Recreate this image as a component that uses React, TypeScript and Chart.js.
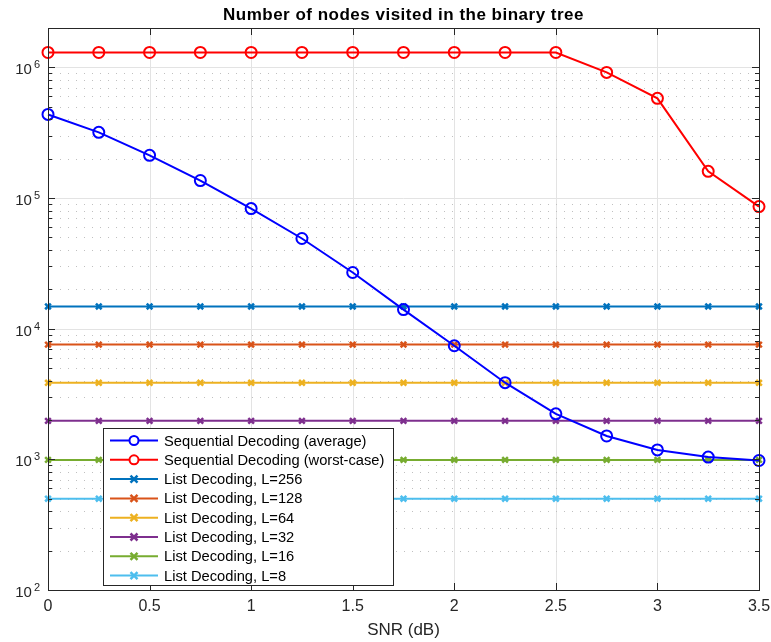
import React, { useEffect, useRef } from 'react';
import { Chart, registerables } from 'chart.js';
Chart.register(...registerables);

const snr = [0, 0.25, 0.5, 0.75, 1, 1.25, 1.5, 1.75, 2, 2.25, 2.5, 2.75, 3, 3.25, 3.5];
const seqAverage = [436000, 318000, 212000, 136000, 83000, 49000, 26900, 14000, 7400, 3860, 2230, 1510, 1180, 1040, 980];
const seqWorst = [1300000, 1300000, 1300000, 1300000, 1300000, 1300000, 1300000, 1300000, 1300000, 1300000, 1300000, 915000, 579000, 160000, 86000];
const list256 = [14800, 14800, 14800, 14800, 14800, 14800, 14800, 14800, 14800, 14800, 14800, 14800, 14800, 14800, 14800];
const list128 = [7550, 7550, 7550, 7550, 7550, 7550, 7550, 7550, 7550, 7550, 7550, 7550, 7550, 7550, 7550];
const list64 = [3850, 3850, 3850, 3850, 3850, 3850, 3850, 3850, 3850, 3850, 3850, 3850, 3850, 3850, 3850];
const list32 = [1970, 1970, 1970, 1970, 1970, 1970, 1970, 1970, 1970, 1970, 1970, 1970, 1970, 1970, 1970];
const list16 = [990, 990, 990, 990, 990, 990, 990, 990, 990, 990, 990, 990, 990, 990, 990];
const list8 = [500, 500, 500, 500, 500, 500, 500, 500, 500, 500, 500, 500, 500, 500, 500];

const seriesLabels = [
  'Sequential Decoding (average)',
  'Sequential Decoding (worst-case)',
  'List Decoding, L=256',
  'List Decoding, L=128',
  'List Decoding, L=64',
  'List Decoding, L=32',
  'List Decoding, L=16',
  'List Decoding, L=8',
];
const seriesColors = ['#0000FF', '#FF0000', '#0072BD', '#D95319', '#EDB120', '#7E2F8E', '#77AC30', '#4DBEEE'];
const seriesValues = [seqAverage, seqWorst, list256, list128, list64, list32, list16, list8];

const xTicks = [0, 0.5, 1, 1.5, 2, 2.5, 3, 3.5];
const xTickLabels = ['0', '0.5', '1', '1.5', '2', '2.5', '3', '3.5'];
const yDecades = [2, 3, 4, 5, 6];

const titleText = 'Number of nodes visited in the binary tree';
const xLabelText = 'SNR (dB)';
const FONT = '"Liberation Sans", Arial, Helvetica, sans-serif';

const axesPlugin = {
  id: 'matlabAxes',
  beforeDatasetsDraw(chart: any) {
    const { ctx, chartArea: a } = chart;
    const xs = chart.scales.x;
    const ys = chart.scales.y;
    ctx.save();
    ctx.strokeStyle = '#e3e3e3';
    ctx.lineWidth = 1;
    xTicks.forEach((t) => {
      const px = Math.round(xs.getPixelForValue(t)) + 0.5;
      ctx.beginPath();
      ctx.moveTo(px, a.top);
      ctx.lineTo(px, a.bottom);
      ctx.stroke();
    });
    yDecades.forEach((d) => {
      const py = Math.round(ys.getPixelForValue(Math.pow(10, d))) + 0.5;
      ctx.setLineDash([]);
      ctx.strokeStyle = '#e3e3e3';
      ctx.beginPath();
      ctx.moveTo(a.left, py);
      ctx.lineTo(a.right, py);
      ctx.stroke();
      for (let m = 2; m <= 9; m++) {
        const v = m * Math.pow(10, d);
        if (v > ys.max) continue;
        const my = Math.round(ys.getPixelForValue(v)) + 0.5;
        ctx.setLineDash([1, 7]);
        ctx.lineDashOffset = -4;
        ctx.strokeStyle = '#c0c0c0';
        ctx.beginPath();
        ctx.moveTo(a.left, my);
        ctx.lineTo(a.right, my);
        ctx.stroke();
      }
    });
    ctx.restore();
  },
  afterDatasetsDraw(chart: any) {
    const { ctx, chartArea: a } = chart;
    const xs = chart.scales.x;
    const ys = chart.scales.y;
    ctx.save();
    ctx.setLineDash([]);
    ctx.strokeStyle = '#262626';
    ctx.lineWidth = 1;
    xTicks.forEach((t) => {
      const px = Math.round(xs.getPixelForValue(t)) + 0.5;
      ctx.beginPath();
      ctx.moveTo(px, a.bottom);
      ctx.lineTo(px, a.bottom - 7);
      ctx.moveTo(px, a.top);
      ctx.lineTo(px, a.top + 7);
      ctx.stroke();
    });
    yDecades.forEach((d) => {
      const py = Math.round(ys.getPixelForValue(Math.pow(10, d))) + 0.5;
      ctx.beginPath();
      ctx.moveTo(a.left, py);
      ctx.lineTo(a.left + 7, py);
      ctx.moveTo(a.right, py);
      ctx.lineTo(a.right - 7, py);
      ctx.stroke();
      for (let m = 2; m <= 9; m++) {
        const v = m * Math.pow(10, d);
        if (v > ys.max) continue;
        const my = Math.round(ys.getPixelForValue(v)) + 0.5;
        ctx.beginPath();
        ctx.moveTo(a.left, my);
        ctx.lineTo(a.left + 4, my);
        ctx.moveTo(a.right, my);
        ctx.lineTo(a.right - 4, my);
        ctx.stroke();
      }
    });
    ctx.strokeStyle = '#262626';
    ctx.strokeRect(Math.round(a.left) + 0.5, Math.round(a.top) + 0.5, Math.round(a.right - a.left), Math.round(a.bottom - a.top));
    ctx.fillStyle = '#262626';
    ctx.font = `16px ${FONT}`;
    ctx.textAlign = 'center';
    ctx.textBaseline = 'middle';
    xTicks.forEach((t, i) => {
      ctx.fillText(xTickLabels[i], xs.getPixelForValue(t), a.bottom + 17);
    });
    ctx.font = `17px ${FONT}`;
    ctx.fillText(xLabelText, (a.left + a.right) / 2, a.bottom + 40);
    yDecades.forEach((d) => {
      const py = ys.getPixelForValue(Math.pow(10, d));
      ctx.font = `11px ${FONT}`;
      ctx.textAlign = 'right';
      ctx.textBaseline = 'middle';
      const expW = ctx.measureText(String(d)).width;
      ctx.fillText(String(d), a.left - 8, py - 2);
      ctx.font = `15px ${FONT}`;
      ctx.fillText('10', a.left - 8 - expW - 2, py + 3);
    });
    ctx.font = `bold 17px ${FONT}`;
    ctx.textAlign = 'center';
    ctx.fillStyle = '#000000';
    try { (ctx as any).letterSpacing = '0.5px'; } catch (e) {}
    ctx.fillText(titleText, (a.left + a.right) / 2, 15);
    try { (ctx as any).letterSpacing = '0px'; } catch (e) {}
    ctx.restore();
  },
  afterDraw(chart: any) {
    const { ctx } = chart;
    const bx = 103.5, by = 428.5, bw = 290, bh = 157;
    ctx.save();
    ctx.fillStyle = '#ffffff';
    ctx.fillRect(bx, by, bw, bh);
    ctx.strokeStyle = '#262626';
    ctx.lineWidth = 1;
    ctx.strokeRect(bx, by, bw, bh);
    const rowH = 19.3;
    seriesLabels.forEach((lab, i) => {
      const cy = by + 12 + i * rowH;
      ctx.strokeStyle = seriesColors[i];
      ctx.lineWidth = 2;
      ctx.beginPath();
      ctx.moveTo(110, cy);
      ctx.lineTo(158, cy);
      ctx.stroke();
      ctx.beginPath();
      if (i < 2) {
        ctx.arc(134, cy, 4.5, 0, Math.PI * 2);
        ctx.fillStyle = '#ffffff';
        ctx.fill();
        ctx.stroke();
      } else {
        const r = 3.5;
        ctx.lineWidth = 2.5;
        ctx.moveTo(134 - r, cy - r);
        ctx.lineTo(134 + r, cy + r);
        ctx.moveTo(134 + r, cy - r);
        ctx.lineTo(134 - r, cy + r);
        ctx.stroke();
      }
      ctx.fillStyle = '#000000';
      ctx.font = `14.7px ${FONT}`;
      ctx.textAlign = 'left';
      ctx.textBaseline = 'middle';
      ctx.fillText(lab, 164, cy + 1);
    });
    ctx.restore();
  },
};

export default function App() {
  const ref = useRef<HTMLCanvasElement>(null);
  useEffect(() => {
    if (!ref.current) return;
    const datasets = seriesValues.map((vals, i) => ({
      label: seriesLabels[i],
      data: vals.map((v, j) => ({ x: snr[j], y: v })),
      borderColor: seriesColors[i],
      backgroundColor: i < 2 ? 'rgba(255,255,255,0)' : seriesColors[i],
      borderWidth: 2,
      pointStyle: i < 2 ? 'circle' : 'crossRot',
      pointRadius: i < 2 ? 5.5 : 4,
      pointBorderWidth: i < 2 ? 2 : 2.5,
      pointBorderColor: seriesColors[i],
      pointBackgroundColor: 'rgba(255,255,255,0)',
      tension: 0,
      clip: 10,
      order: i < 2 ? 0 : 1,
    }));
    const chart = new Chart(ref.current, {
      type: 'line',
      data: { datasets },
      options: {
        animation: false,
        responsive: false,
        maintainAspectRatio: false,
        layout: { padding: { left: 48, top: 28, right: 12, bottom: 52 } },
        plugins: { legend: { display: false }, tooltip: { enabled: false }, title: { display: false } },
        scales: {
          x: { type: 'linear', min: 0, max: 3.5, display: false },
          y: { type: 'logarithmic', min: 100, max: 2000000, display: false },
        },
      },
      plugins: [axesPlugin],
    });
    return () => chart.destroy();
  }, []);
  return (
    <div style={{ position: 'fixed', left: 0, top: 0, width: 771, height: 642, background: '#ffffff' }}>
      <canvas ref={ref} width={771} height={642} style={{ width: 771, height: 642 }} />
    </div>
  );
}
